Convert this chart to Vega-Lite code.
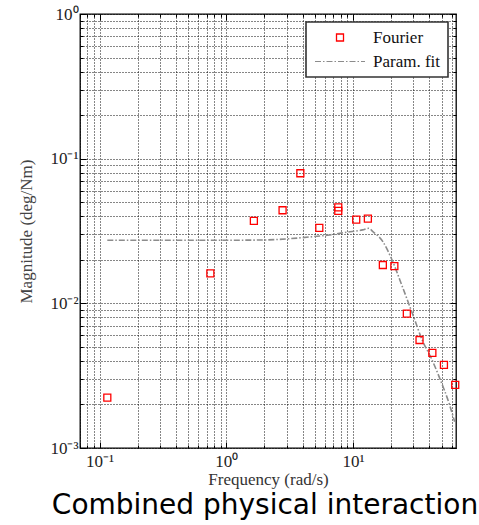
{
  "$schema": "https://vega.github.io/schema/vega-lite/v6.json",
  "autosize": "none",
  "width": 376,
  "height": 434,
  "padding": {"left": 80, "top": 14, "right": 23, "bottom": 77},
  "background": "white",
  "title": {
    "text": "Combined physical interaction",
    "orient": "bottom",
    "anchor": "middle",
    "font": "DejaVu Sans",
    "fontSize": 28,
    "fontWeight": "normal",
    "color": "#000",
    "offset": 5,
    "dx": -3
  },
  "datasets": {
    "fourier": [
      {"freq": 0.115, "mag": 0.00223, "series": "Fourier"},
      {"freq": 0.748, "mag": 0.0161, "series": "Fourier"},
      {"freq": 1.65, "mag": 0.0371, "series": "Fourier"},
      {"freq": 2.78, "mag": 0.044, "series": "Fourier"},
      {"freq": 3.84, "mag": 0.0793, "series": "Fourier"},
      {"freq": 5.42, "mag": 0.0332, "series": "Fourier"},
      {"freq": 7.65, "mag": 0.046, "series": "Fourier"},
      {"freq": 7.65, "mag": 0.0435, "series": "Fourier"},
      {"freq": 10.6, "mag": 0.0379, "series": "Fourier"},
      {"freq": 13.1, "mag": 0.0385, "series": "Fourier"},
      {"freq": 17.2, "mag": 0.0184, "series": "Fourier"},
      {"freq": 21.2, "mag": 0.0181, "series": "Fourier"},
      {"freq": 26.6, "mag": 0.00849, "series": "Fourier"},
      {"freq": 33.5, "mag": 0.00558, "series": "Fourier"},
      {"freq": 42.3, "mag": 0.00454, "series": "Fourier"},
      {"freq": 52.2, "mag": 0.00375, "series": "Fourier"},
      {"freq": 64.1, "mag": 0.00273, "series": "Fourier"}
    ],
    "fit": [
      {"freq": 0.115, "mag": 0.0273, "series": "Param. fit"},
      {"freq": 0.5, "mag": 0.0273, "series": "Param. fit"},
      {"freq": 1.0, "mag": 0.0273, "series": "Param. fit"},
      {"freq": 1.93, "mag": 0.0274, "series": "Param. fit"},
      {"freq": 3.2, "mag": 0.0280, "series": "Param. fit"},
      {"freq": 4.8, "mag": 0.0289, "series": "Param. fit"},
      {"freq": 6.53, "mag": 0.0297, "series": "Param. fit"},
      {"freq": 8.85, "mag": 0.0310, "series": "Param. fit"},
      {"freq": 11.9, "mag": 0.0322, "series": "Param. fit"},
      {"freq": 13.3, "mag": 0.0330, "series": "Param. fit"},
      {"freq": 14.35, "mag": 0.0313, "series": "Param. fit"},
      {"freq": 17.2, "mag": 0.0267, "series": "Param. fit"},
      {"freq": 20.05, "mag": 0.0205, "series": "Param. fit"},
      {"freq": 24.8, "mag": 0.0127, "series": "Param. fit"},
      {"freq": 29.7, "mag": 0.00832, "series": "Param. fit"},
      {"freq": 35.6, "mag": 0.00544, "series": "Param. fit"},
      {"freq": 41.5, "mag": 0.00417, "series": "Param. fit"},
      {"freq": 48.3, "mag": 0.00304, "series": "Param. fit"},
      {"freq": 57.8, "mag": 0.00199, "series": "Param. fit"},
      {"freq": 63.4, "mag": 0.00152, "series": "Param. fit"}
    ]
  },
  "config": {
    "view": {"stroke": "#000", "strokeWidth": 1.3},
    "axis": {
      "domain": false,
      "grid": true,
      "gridColor": "#000",
      "gridDash": [1, 2],
      "gridOpacity": 0.95,
      "gridWidth": 1,
      "tickColor": "#000",
      "tickWidth": 1
    }
  },
  "encoding": {
    "x": {
      "field": "freq",
      "type": "quantitative",
      "scale": {"type": "log", "domain": [0.07, 65], "nice": false}
    },
    "y": {
      "field": "mag",
      "type": "quantitative",
      "scale": {"type": "log", "domain": [0.001, 1], "nice": false}
    },
    "color": {
      "field": "series",
      "type": "nominal",
      "scale": {"domain": ["Fourier", "Param. fit"], "range": ["#ff0000", "#8c8c8c"]}
    }
  },
  "resolve": {"axis": {"x": "independent", "y": "independent"}},
  "layer": [
    {
      "data": {"name": "fit"},
      "mark": {"type": "line", "interpolate": "monotone", "strokeWidth": 1.6, "strokeDash": [6, 2, 1.5, 2], "clip": true},
      "encoding": {
        "x": {
          "field": "freq",
          "type": "quantitative",
          "title": "Frequency (rad/s)",
          "axis": {
            "values": [0.07, 0.08, 0.09, 0.1, 0.2, 0.3, 0.4, 0.5, 0.6, 0.7, 0.8, 0.9, 1, 2, 3, 4, 5, 6, 7, 8, 9, 10, 20, 30, 40, 50, 60],
            "labelExpr": "datum.value == 0.1 ? '10⁻¹' : datum.value == 1 ? '10⁰' : datum.value == 10 ? '10¹' : ''",
            "tickSize": {"condition": {"test": "datum.value == 0.1 || datum.value == 1 || datum.value == 10", "value": -6}, "value": -3},
            "labelFont": "Liberation Serif",
            "labelFontSize": 17,
            "labelColor": "#222",
            "titleFont": "Liberation Serif",
            "titleFontSize": 17,
            "titleFontWeight": "normal",
            "titleColor": "#333",
            "labelPadding": 11,
            "labelFlush": false,
            "titlePadding": 2
          }
        },
        "y": {
          "field": "mag",
          "type": "quantitative",
          "title": "Magnitude (deg/Nm)",
          "axis": {
            "values": [0.001, 0.002, 0.003, 0.004, 0.005, 0.006, 0.007, 0.008, 0.009, 0.01, 0.02, 0.03, 0.04, 0.05, 0.06, 0.07, 0.08, 0.09, 0.1, 0.2, 0.3, 0.4, 0.5, 0.6, 0.7, 0.8, 0.9, 1],
            "labelExpr": "datum.value == 0.001 ? '10⁻³' : datum.value == 0.01 ? '10⁻²' : datum.value == 0.1 ? '10⁻¹' : datum.value == 1 ? '10⁰' : ''",
            "tickSize": {"condition": {"test": "datum.value == 0.001 || datum.value == 0.01 || datum.value == 0.1 || datum.value == 1", "value": -6}, "value": -3},
            "labelFont": "Liberation Serif",
            "labelFontSize": 17,
            "labelColor": "#222",
            "titleFont": "Liberation Serif",
            "titleFontSize": 17,
            "titleFontWeight": "normal",
            "titleColor": "#444",
            "labelPadding": 8,
            "labelFlush": false,
            "titlePadding": 14
          }
        },
        "color": {
          "field": "series",
          "type": "nominal",
          "legend": {
            "title": null,
            "orient": "top-right",
            "offset": 8,
            "padding": 7,
            "fillColor": "white",
            "strokeColor": "#333",
            "labelFont": "Liberation Serif",
            "labelFontSize": 17,
            "labelColor": "#111",
            "rowPadding": 6,
            "symbolStrokeWidth": 1.4,
            "encode": {
              "legend": {"update": {"strokeWidth": {"value": 1.6}}},
              "symbols": {
                "update": {
                  "x": {"value": 27},
                  "shape": {"signal": "datum.value === 'Fourier' ? 'square' : 'stroke'"},
                  "size": {"signal": "datum.value === 'Fourier' ? 49 : 2500"},
                  "strokeDash": {"signal": "datum.value === 'Fourier' ? [] : [6, 2, 1.5, 2]"},
                  "stroke": {"signal": "datum.value === 'Fourier' ? '#ff0000' : '#222'"},
                  "fill": {"value": "transparent"},
                  "strokeWidth": {"signal": "datum.value === 'Fourier' ? 1.3 : 1.2"}
                }
              },
              "labels": {"update": {"x": {"value": 60}}}
            }
          }
        }
      }
    },
    {
      "data": {"name": "fourier"},
      "mark": {"type": "point", "shape": "square", "filled": false, "size": 49, "strokeWidth": 1.3, "opacity": 1},
      "encoding": {
        "x": {"field": "freq", "type": "quantitative", "axis": null},
        "y": {"field": "mag", "type": "quantitative", "axis": null}
      }
    },
    {
      "data": {"name": "fit"},
      "mark": {"type": "line", "opacity": 0},
      "encoding": {
        "x": {
          "field": "freq",
          "type": "quantitative",
          "axis": {
            "orient": "top",
            "grid": false,
            "labels": false,
            "title": null,
            "values": [0.07, 0.08, 0.09, 0.1, 0.2, 0.3, 0.4, 0.5, 0.6, 0.7, 0.8, 0.9, 1, 2, 3, 4, 5, 6, 7, 8, 9, 10, 20, 30, 40, 50, 60],
            "tickSize": {"condition": {"test": "datum.value == 0.1 || datum.value == 1 || datum.value == 10", "value": -6}, "value": -3}
          }
        },
        "y": {
          "field": "mag",
          "type": "quantitative",
          "axis": {
            "orient": "right",
            "grid": false,
            "labels": false,
            "title": null,
            "values": [0.001, 0.002, 0.003, 0.004, 0.005, 0.006, 0.007, 0.008, 0.009, 0.01, 0.02, 0.03, 0.04, 0.05, 0.06, 0.07, 0.08, 0.09, 0.1, 0.2, 0.3, 0.4, 0.5, 0.6, 0.7, 0.8, 0.9, 1],
            "tickSize": {"condition": {"test": "datum.value == 0.001 || datum.value == 0.01 || datum.value == 0.1 || datum.value == 1", "value": -6}, "value": -3}
          }
        },
        "color": {"field": "series", "type": "nominal", "legend": null}
      }
    }
  ]
}
